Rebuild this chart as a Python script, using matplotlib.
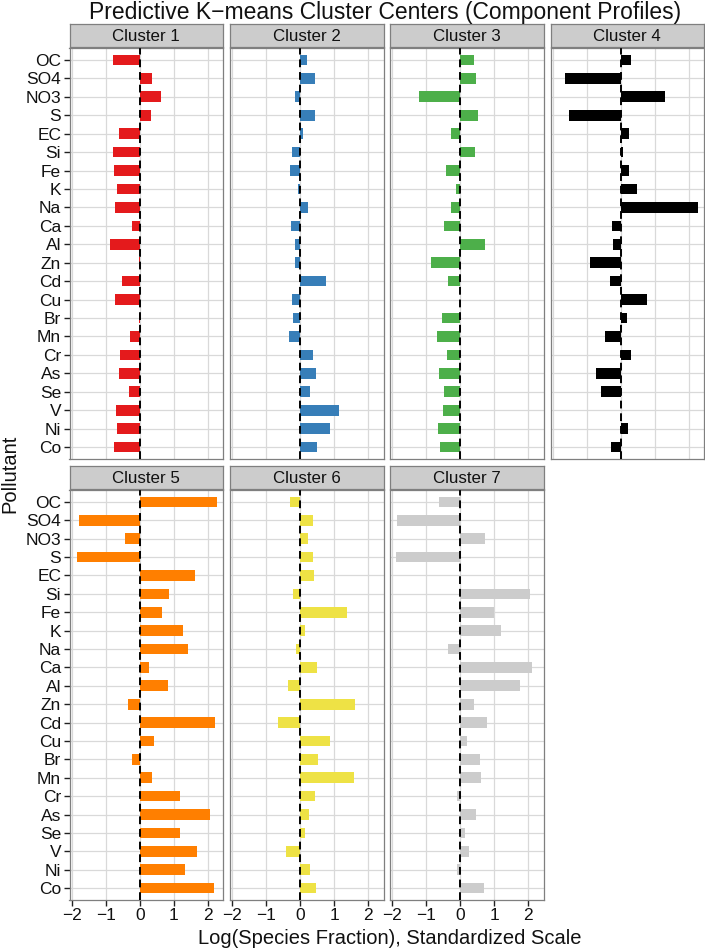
import matplotlib
matplotlib.use('Agg')
import matplotlib.pyplot as plt
import numpy as np

plt.rcParams['font.family'] = ['Liberation Sans', 'DejaVu Sans']

# 数据：每个簇的标准化中心值（从图上读的）
pollutants = ['OC', 'SO4', 'NO3', 'S', 'EC', 'Si', 'Fe', 'K', 'Na', 'Ca', 'Al',
              'Zn', 'Cd', 'Cu', 'Br', 'Mn', 'Cr', 'As', 'Se', 'V', 'Ni', 'Co']
cluster_names = ['Cluster 1', 'Cluster 2', 'Cluster 3', 'Cluster 4',
                 'Cluster 5', 'Cluster 6', 'Cluster 7']
cluster1 = [-0.78, 0.36, 0.62, 0.33, -0.61, -0.78, -0.75, -0.67, -0.72, -0.23, -0.87,
            -0.03, -0.52, -0.73, -0.03, -0.30, -0.58, -0.60, -0.32, -0.69, -0.67, -0.77]
cluster2 = [0.19, 0.42, -0.16, 0.42, 0.07, -0.25, -0.29, -0.08, 0.22, -0.26, -0.15,
            -0.15, 0.76, -0.25, -0.22, -0.34, 0.38, 0.46, 0.28, 1.13, 0.86, 0.49]
cluster3 = [0.39, 0.46, -1.22, 0.51, -0.27, 0.43, -0.41, -0.13, -0.27, -0.48, 0.74,
            -0.86, -0.35, -0.02, -0.54, -0.68, -0.38, -0.64, -0.49, -0.50, -0.65, -0.61]
cluster4 = [0.30, -1.64, 1.29, -1.53, 0.24, 0.06, 0.23, 0.48, 2.26, -0.26, -0.23,
            -0.90, -0.32, 0.77, 0.17, -0.46, 0.31, -0.72, -0.58, 0.01, 0.20, -0.29]
cluster5 = [2.28, -1.78, -0.44, -1.84, 1.63, 0.86, 0.64, 1.27, 1.42, 0.28, 0.83,
            -0.34, 2.21, 0.42, -0.23, 0.37, 1.17, 2.07, 1.17, 1.68, 1.34, 2.18]
cluster6 = [-0.31, 0.38, 0.24, 0.36, 0.39, -0.21, 1.37, 0.13, -0.14, 0.49, -0.35,
            1.61, -0.65, 0.87, 0.52, 1.58, 0.42, 0.26, 0.14, -0.42, 0.28, 0.46]
cluster7 = [-0.63, -1.85, 0.74, -1.88, 0.0, 2.06, 1.00, 1.20, -0.36, 2.10, 1.75,
            0.41, 0.78, 0.20, 0.59, 0.62, -0.11, 0.46, 0.13, 0.25, -0.11, 0.70]
clusters = [cluster1, cluster2, cluster3, cluster4, cluster5, cluster6, cluster7]
bar_colors = ['#E41A1C', '#377EB8', '#4DAF4A', '#000000', '#FF7F00', '#EEE245', '#CCCCCC']
x_ticks = [-2, -1, 0, 1, 2]

W, H = 705, 951
fig = plt.figure(figsize=(W / 100, H / 100), dpi=100)

col_left = [69.5, 230, 390, 550.5]
panel_w = 153.5
row_top = [48, 490]
row_bot = [459, 900]
strip_h = 23

ypos = np.arange(len(pollutants), 0, -1)  # OC在最上面

def px_rect(left, top, w, h):
    return [left / W, 1 - (top + h) / H, w / W, h / H]

for i, vals in enumerate(clusters):
    row, col = divmod(i, 4)
    top = row_top[row]
    ph = row_bot[row] - top
    ax = fig.add_axes(px_rect(col_left[col], top, panel_w, ph))
    ax.barh(ypos, vals, height=0.58, color=bar_colors[i], zorder=2)
    ax.axvline(0, color='black', ls=(0, (4, 2.5)), lw=1.4, zorder=3)
    ax.set_xlim(-2.07, 2.45)
    ax.set_ylim(0.35, len(pollutants) + 0.65)
    ax.set_xticks(x_ticks)
    ax.set_yticks(ypos)
    ax.grid(color='#d9d9d9', lw=0.9, zorder=0)
    ax.set_axisbelow(True)
    for s in ax.spines.values():
        s.set_color('#7f7f7f')
        s.set_linewidth(0.9)
    ax.tick_params(length=4, width=1.0, color='#222222', labelsize=12.5,
                   labelcolor='#111111', pad=2)
    if col == 0:
        ax.set_yticklabels(pollutants)
    else:
        ax.tick_params(axis='y', left=False, labelleft=False)
    if row == 1:
        ax.set_xticklabels([str(t) if t >= 0 else '\u2212' + str(-t) for t in x_ticks])
    else:
        ax.tick_params(axis='x', bottom=False, labelbottom=False)

    # facet标题条
    sax = fig.add_axes(px_rect(col_left[col], top - strip_h - 1, panel_w, strip_h))
    sax.set_facecolor('#cccccc')
    sax.set_xticks([])
    sax.set_yticks([])
    for s in sax.spines.values():
        s.set_color('#7f7f7f')
        s.set_linewidth(0.9)
    sax.text(0.5, 0.47, cluster_names[i], ha='center', va='center', fontsize=12.2,
             color='#111111', transform=sax.transAxes)

fig.text(385 / W, 1 - 12 / H, 'Predictive K\u2212means Cluster Centers (Component Profiles)',
         ha='center', va='center', fontsize=16.5, color='#111111')
fig.text(390 / W, 1 - 939 / H, 'Log(Species Fraction), Standardized Scale',
         ha='center', va='center', fontsize=14.5, color='#111111')
fig.text(10 / W, 1 - 474 / H, 'Pollutant', ha='center', va='center', rotation=90,
         fontsize=14.5, color='#111111')

fig.savefig('out.png', dpi=100)
